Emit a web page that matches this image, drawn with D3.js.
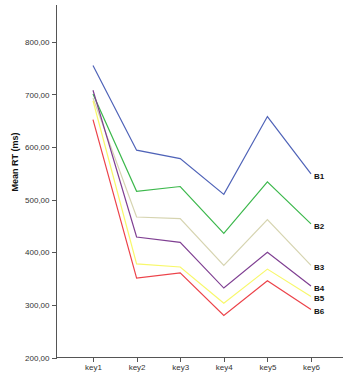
<!DOCTYPE html>
<html>
<head>
<meta charset="utf-8">
<script src="https://cdn.jsdelivr.net/npm/d3@7"></script>
<style>
  body { margin: 0; background: #fff; }
  svg { display: block; font-family: "Liberation Sans", Arial, sans-serif; }
  .axis path, .axis line { stroke: #555; shape-rendering: crispEdges; }
  .axis text { fill: #333; font-size: 8px; }
</style>
</head>
<body>
<div id="chart"></div>
<script>
const width = 344;
const height = 377;

// categorias do eixo x
const keys = ["key1", "key2", "key3", "key4", "key5", "key6"];

// valores de cada série (Mean RT em ms)
const B1 = [755, 594, 578, 510, 658, 549];
const B2 = [701, 516, 525, 436, 534, 454];
const B3 = [693, 467, 464, 375, 462, 375];
const B4 = [708, 429, 419, 332, 400, 336];
const B5 = [688, 378, 372, 303, 368, 316];
const B6 = [652, 351, 361, 280, 346, 291];

const seriesNames = ["B1", "B2", "B3", "B4", "B5", "B6"];
const seriesValues = [B1, B2, B3, B4, B5, B6];
const colors = ["#4f63b8", "#3cb84c", "#d6d4b0", "#7f3f92", "#f8f86a", "#ec4249"];

const yTicks = [200, 300, 400, 500, 600, 700, 800];

const svg = d3.select("#chart").append("svg")
    .attr("width", width)
    .attr("height", height);

const x = d3.scalePoint()
    .domain(keys)
    .range([93, 311]);

const y = d3.scaleLinear()
    .domain([200, 870])
    .range([357.5, 5]);

const left = 56.5, right = 343;

// eixo y
const yAxis = svg.append("g")
    .attr("class", "axis")
    .attr("transform", `translate(${left},0)`)
    .call(d3.axisLeft(y).tickValues(yTicks).tickSize(5).tickPadding(2)
        .tickFormat(d => d3.format(".2f")(d).replace(".", ",")));
yAxis.select(".domain").attr("d", `M0,${y(870)}V${y(200)}`);

// eixo x
const xAxis = svg.append("g")
    .attr("class", "axis")
    .attr("transform", `translate(0,${y(200)})`)
    .call(d3.axisBottom(x).tickSize(4).tickPadding(3));
xAxis.select(".domain").attr("d", `M${left},0H${right}`);

// título do eixo y
svg.append("text")
    .attr("transform", `translate(18,162) rotate(-90)`)
    .attr("text-anchor", "middle")
    .attr("font-size", "9px")
    .attr("font-weight", "bold")
    .attr("fill", "#111")
    .text("Mean RT (ms)");

const line = d3.line()
    .x((d, i) => x(keys[i]))
    .y(d => y(d));

svg.selectAll(".serie")
    .data(seriesValues)
    .enter().append("path")
    .attr("class", "serie")
    .attr("d", line)
    .attr("fill", "none")
    .attr("stroke", (d, i) => colors[i])
    .attr("stroke-width", 1.2);

// rótulos das séries no fim das linhas
svg.selectAll(".rotulo")
    .data(seriesValues)
    .enter().append("text")
    .attr("class", "rotulo")
    .attr("x", x("key6") + 3)
    .attr("y", d => y(d[d.length - 1]) + 2)
    .attr("dy", "0.35em")
    .attr("font-size", "8px")
    .attr("font-weight", "bold")
    .attr("fill", "#111")
    .text((d, i) => seriesNames[i]);
</script>
</body>
</html>
